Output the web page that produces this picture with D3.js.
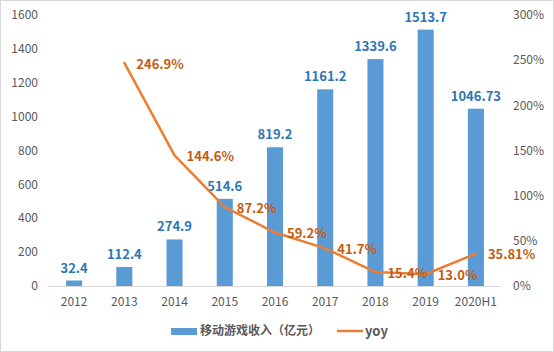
<!DOCTYPE html>
<html><head><meta charset="utf-8">
<script src="https://cdn.jsdelivr.net/npm/d3@7"></script>
<style>body{margin:0;background:#fff;}svg{display:block;font-family:"Noto Sans CJK SC","Open Sans",sans-serif;}</style>
</head><body>
<svg id="c" width="554" height="352"></svg>
<script>
const categories = ["2012","2013","2014","2015","2016","2017","2018","2019","2020H1"];
const revenue = [32.4,112.4,274.9,514.6,819.2,1161.2,1339.6,1513.7,1046.73];
const revenueLabels = ["32.4","112.4","274.9","514.6","819.2","1161.2","1339.6","1513.7","1046.73"];
const yoy = [null,246.9,144.6,87.2,59.2,41.7,15.4,13.0,35.81];
const yoyLabels = [null,"246.9%","144.6%","87.2%","59.2%","41.7%","15.4%","13.0%","35.81%"];
const leftTicks = [0,200,400,600,800,1000,1200,1400,1600];
const rightTicks = [0,50,100,150,200,250,300];
const seriesNames = ["移动游戏收入（亿元）","yoy"];

const svg = d3.select("#c");
svg.append("rect").attr("x",0.5).attr("y",0.5).attr("width",553).attr("height",351)
  .attr("fill","#fff").attr("stroke","#D9D9D9");

const x = d3.scaleBand().domain(categories).range([49,501]).paddingInner(0.68).paddingOuter(0.34);
const yL = d3.scaleLinear().domain([0,1600]).range([286,15]);
const yR = d3.scaleLinear().domain([0,300]).range([286,15]);

// left axis labels
svg.append("g").selectAll("text").data(leftTicks).join("text")
  .attr("x",38).attr("y",d=>yL(d)).attr("dy","0.35em").attr("text-anchor","end")
  .attr("font-size",12).attr("fill","#595959").text(d=>d);
// right axis labels
svg.append("g").selectAll("text").data(rightTicks).join("text")
  .attr("x",513).attr("y",d=>yR(d)).attr("dy","0.35em").attr("text-anchor","start")
  .attr("font-size",12).attr("fill","#595959").text(d=>d+"%");

// baseline
svg.append("line").attr("x1",49).attr("x2",501).attr("y1",286.5).attr("y2",286.5)
  .attr("stroke","#D9D9D9").attr("stroke-width",1);

// x labels
svg.append("g").selectAll("text").data(categories).join("text")
  .attr("x",d=>x(d)+x.bandwidth()/2).attr("y",302).attr("dy","0.35em").attr("text-anchor","middle")
  .attr("font-size",12).attr("fill","#595959").text(d=>d);

// bars
svg.append("g").selectAll("rect").data(revenue).join("rect")
  .attr("x",(d,i)=>x(categories[i])).attr("width",x.bandwidth())
  .attr("y",d=>yL(d)).attr("height",d=>yL(0)-yL(d)).attr("fill","#5B9BD5");

// bar labels
svg.append("g").selectAll("text").data(revenue).join("text")
  .attr("x",(d,i)=>x(categories[i])+x.bandwidth()/2).attr("y",d=>yL(d)-8)
  .attr("text-anchor","middle").attr("font-size",13).attr("font-weight","bold")
  .attr("fill","#2E75B6").text((d,i)=>revenueLabels[i]);

// line
const pts = yoy.map((v,i)=>({v,c:categories[i],l:yoyLabels[i]})).filter(p=>p.v!=null);
const line = d3.line().x(p=>x(p.c)+x.bandwidth()/2).y(p=>yR(p.v));
svg.append("path").datum(pts).attr("d",line).attr("fill","none")
  .attr("stroke","#ED7D31").attr("stroke-width",2.5).attr("stroke-linejoin","round").attr("stroke-linecap","round");

svg.append("g").selectAll("text").data(pts).join("text")
  .attr("x",p=>x(p.c)+x.bandwidth()/2+12).attr("y",p=>yR(p.v)+1).attr("dy","0.35em")
  .attr("text-anchor","start").attr("font-size",13).attr("font-weight","bold")
  .attr("fill","#C55A11").text(p=>p.l);

// legend
const lg = svg.append("g");
lg.append("rect").attr("x",171).attr("y",328).attr("width",26).attr("height",7).attr("fill","#5B9BD5");
lg.append("text").attr("x",200).attr("y",331).attr("dy","0.35em").attr("font-size",12).attr("font-weight","bold")
  .attr("fill","#595959").text(seriesNames[0]);
lg.append("line").attr("x1",337).attr("x2",363).attr("y1",331).attr("y2",331).attr("stroke","#ED7D31").attr("stroke-width",2.5);
lg.append("text").attr("x",365).attr("y",331).attr("dy","0.35em").attr("font-size",13).attr("font-weight","bold")
  .attr("fill","#595959").text(seriesNames[1]);
</script>
</body></html>
